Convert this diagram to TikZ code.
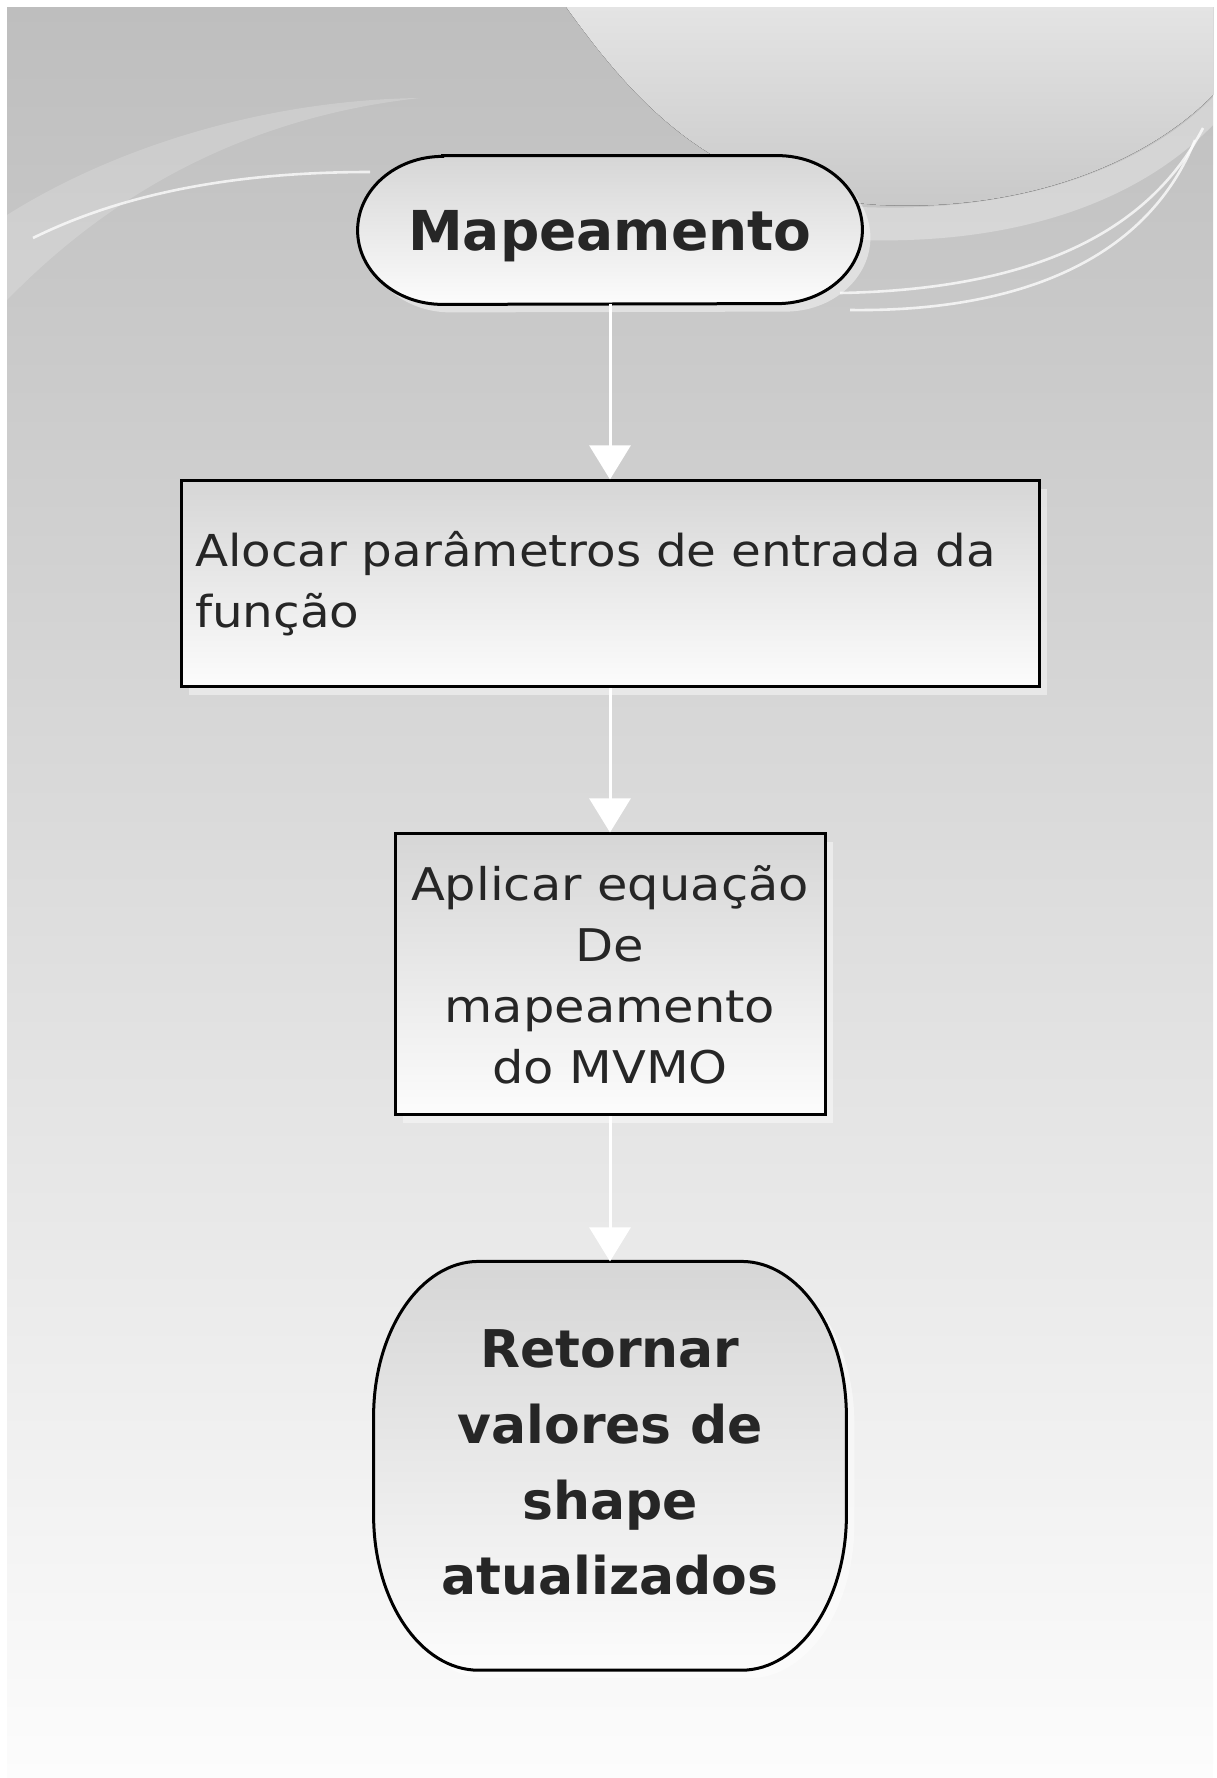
\documentclass[tikz,border=0pt]{standalone}
\usepackage{fontspec}
\usetikzlibrary{arrows.meta,positioning,calc,shadows,backgrounds}
\newfontfamily\boxfont[FakeStretch=1.1]{DejaVu Sans}
\newfontfamily\headfont{DejaVu Sans}
\definecolor{pagetop}{HTML}{BEBEBE}
\definecolor{pagebottom}{HTML}{FCFCFC}
\definecolor{swooshtop}{HTML}{E4E4E4}
\definecolor{swooshbottom}{HTML}{C8C8C8}
\definecolor{shadetop}{HTML}{D6D6D6}
\definecolor{shadebottom}{HTML}{FCFCFC}
\definecolor{inktext}{HTML}{262626}
\tikzset{
  outline/.style={draw=black,line width=1.5pt,top color=shadetop,bottom color=shadebottom,
                  drop shadow={fill=white,opacity=0.45,shadow xshift=4pt,shadow yshift=-4pt}},
  process/.style={outline,rectangle,inner sep=0pt,text=inktext,
                  font=\boxfont\fontsize{22.5}{30.5}\selectfont},
  terminal/.style={rectangle,inner sep=0pt,align=center,text=inktext},
  flow/.style={-{Triangle[width=20.5pt,length=17pt]},draw=white,line width=1.5pt},
  gleam/.style={draw=white,line width=1.3pt,opacity=0.75}
}

\begin{document}
\begin{tikzpicture}[x=0.5pt,y=0.5pt]
  \useasboundingbox (0,0) rectangle (1216,-1778);

  \node[terminal,minimum width=252pt,minimum height=74pt,text depth=0pt,
        font=\headfont\bfseries\fontsize{27.5}{33}\selectfont] (map) at (610,-230) {Mapeamento};
  \node[process,below=87.5pt of map,minimum width=429pt,minimum height=103pt,
        text width=415pt,align=left,font=\boxfont\fontsize{22}{30.5}\selectfont] (alloc)
    {Alocar parâmetros de entrada da\\função};
  \node[process,below=72pt of alloc,minimum width=215pt,minimum height=140.5pt,align=center] (apply)
    {Aplicar equação\\De\\mapeamento\\do MVMO};
  \node[terminal,below=72.5pt of apply,minimum width=236pt,minimum height=204pt,text depth=3.5pt,
        font=\headfont\bfseries\fontsize{26}{37.8}\selectfont] (ret)
    {Retornar\\valores de\\shape\\atualizados};

  \draw[flow] (map) -- (alloc);
  \draw[flow] (alloc) -- (apply);
  \draw[flow] (apply) -- (ret);

  \begin{scope}[on background layer]
    % page and swooshes
    \fill[top color=pagetop,bottom color=pagebottom] (7,-7) rectangle (1213,-1778);
    \fill[top color=swooshtop,bottom color=swooshbottom] (566,-7)
      .. controls (640,-110) and (720,-195) .. (880,-205)
      .. controls (1030,-212) and (1150,-160) .. (1213,-95) -- (1213,-7) -- cycle;
    \fill[white,opacity=0.3] (860,-207) .. controls (1030,-214) and (1150,-162) .. (1213,-97)
      -- (1213,-125) .. controls (1140,-200) and (1020,-245) .. (860,-240) -- cycle;
    \fill[white,opacity=0.18] (7,-300) .. controls (90,-215) and (220,-120) .. (420,-98)
      .. controls (260,-100) and (110,-150) .. (7,-215) -- cycle;
    \draw[gleam] (33,-238) .. controls (120,-195) and (230,-172) .. (370,-172);
    \draw[gleam] (840,-293) .. controls (1000,-290) and (1140,-250) .. (1203,-128);
    \draw[gleam] (850,-310) .. controls (1010,-312) and (1145,-265) .. (1195,-140);

    % rounded outlines behind the two terminals
    \path[outline] ($(map.north west)+(85,0)$) -- ($(map.north east)+(-85,0)$)
      arc[start angle=90,end angle=0,x radius=85,y radius=74]
      arc[start angle=0,end angle=-90,x radius=85,y radius=74]
      -- ($(map.south west)+(85,0)$)
      arc[start angle=270,end angle=180,x radius=85,y radius=74]
      arc[start angle=180,end angle=90,x radius=85,y radius=74] -- cycle;
    \path[outline] ($(ret.north west)+(105,0)$) -- ($(ret.north east)+(-105,0)$)
      arc[start angle=90,end angle=0,x radius=105,y radius=155]
      -- ($(ret.south east)+(0,155)$)
      arc[start angle=0,end angle=-90,x radius=105,y radius=155]
      -- ($(ret.south west)+(105,0)$)
      arc[start angle=270,end angle=180,x radius=105,y radius=155]
      -- ($(ret.north west)+(0,-155)$)
      arc[start angle=180,end angle=90,x radius=105,y radius=155] -- cycle;
  \end{scope}
\end{tikzpicture}
\end{document}
